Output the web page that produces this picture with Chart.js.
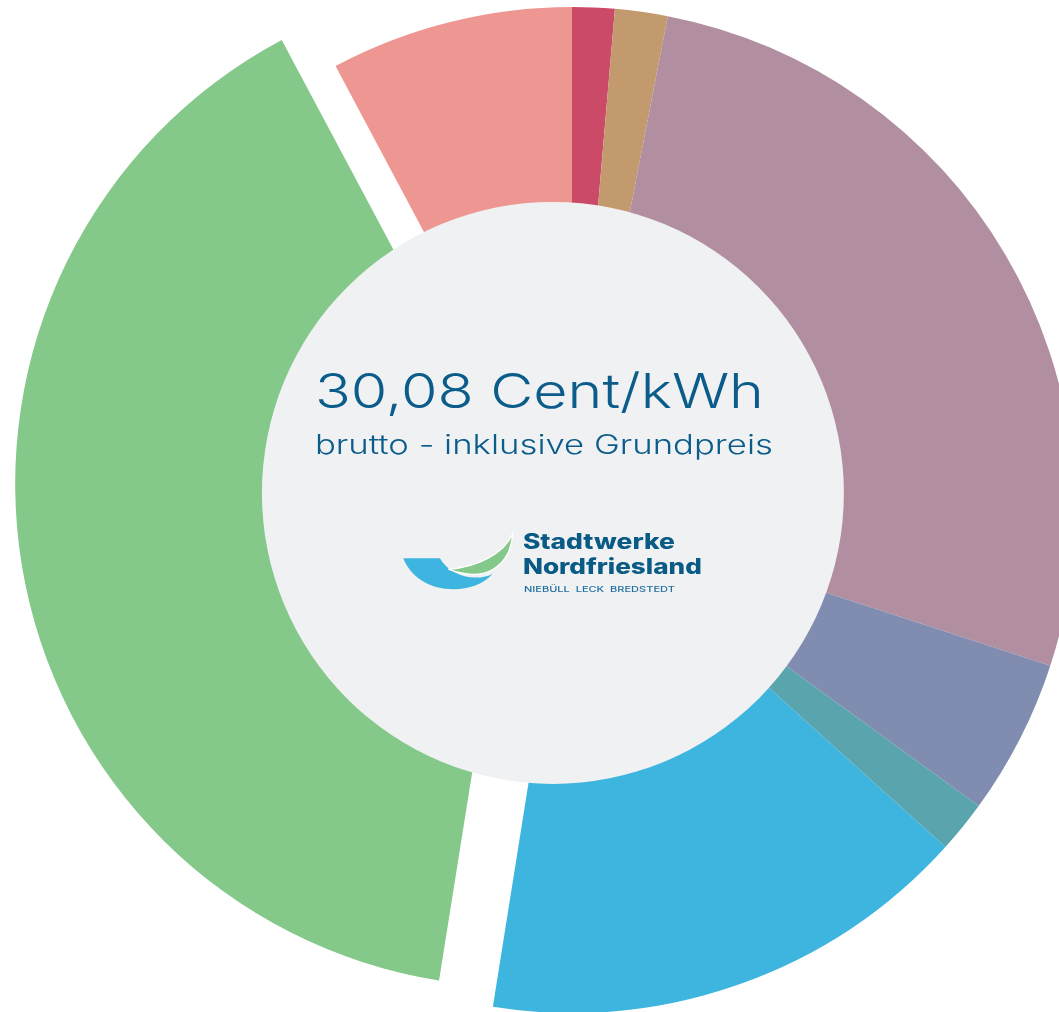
<!DOCTYPE html>
<html lang="de">
<head>
<meta charset="utf-8">
<title>Strompreis 30,08 Cent/kWh</title>
<script src="https://cdn.jsdelivr.net/npm/chart.js@4.4.0/dist/chart.umd.min.js"></script>
<style>
  html, body { margin: 0; padding: 0; background: #fff; }
  #wrap { position: relative; width: 1059px; height: 1012px; overflow: hidden; }
</style>
</head>
<body>
<div id="wrap"><canvas id="priceChart"></canvas></div>
<script>
// Anteile am Strompreis in %, im Uhrzeigersinn ab 12 Uhr
const segments = ['Rot', 'Ocker', 'Mauve', 'Graublau', 'Petrol', 'Blau', 'Gruen', 'Lachs'];
const shares = [1.36, 1.69, 26.96, 5.01, 1.67, 15.83, 39.70, 7.79];
const segmentColors = ['#CB4A68', '#C39A6D', '#B18FA0', '#808DB1', '#5AA4AD', '#3DB5DF', '#84C88A', '#EE9691'];

const priceText = '30,08 Cent/kWh';
const subText = 'brutto - inklusive Grundpreis';
const logoLines = ['Stadtwerke', 'Nordfriesland', 'NIEBÜLL  LECK  BREDSTEDT'];

const pulledIndex = 6; // gruenes Segment ist herausgezogen

// text squeezed/stretched to a given width
function fitText(ctx, text, x, y, width, font) {
    ctx.font = font;
    const w = ctx.measureText(text).width;
    ctx.save();
    ctx.translate(x, y);
    ctx.scale(width / w, 1);
    ctx.fillText(text, 0, 0);
    ctx.restore();
}

// move the green piece up/left (not along its bisector)
const pullOut = {
    id: 'pullOut',
    afterDatasetsUpdate(chart) {
        const arc = chart.getDatasetMeta(0).data[pulledIndex];
        const r = arc.outerRadius;
        arc.x -= 0.107 * r;
        arc.y -= 0.052 * r;
    }
};

// grey disc with price and logo
const centerDisc = {
    id: 'centerDisc',
    afterDatasetsDraw(chart) {
        const ctx = chart.ctx;
        const a = chart.getDatasetMeta(0).data[0];
        const R = a.outerRadius;
        const gx = a.x - 0.038 * R;
        const gy = a.y - 0.034 * R;

        ctx.save();
        ctx.fillStyle = '#F0F1F3';
        ctx.beginPath();
        ctx.arc(gx, gy, 0.5785 * R, 0, Math.PI * 2);
        ctx.fill();

        ctx.textBaseline = 'alphabetic';
        ctx.textAlign = 'left';
        ctx.fillStyle = '#0B5C8A';
        fitText(ctx, priceText, gx - 238, gy - 85, 449, '300 48px Inter');
        fitText(ctx, subText, gx - 238, gy - 39, 458, '300 27px Inter');

        // logo swoosh, sizes in logo units (1/3 px)
        const lx = gx - 173, ly = gy + 17, s = 1 / 3;
        const P = (x, y) => [lx + x * s, ly + y * s];

        ctx.fillStyle = '#3DB5E0';
        ctx.beginPath();
        ctx.moveTo(...P(70, 145));
        ctx.lineTo(...P(180, 145));
        ctx.bezierCurveTo(...P(205, 192), ...P(280, 220), ...P(338, 192));
        ctx.bezierCurveTo(...P(285, 255), ...P(120, 265), ...P(70, 145));
        ctx.fill();

        ctx.fillStyle = '#84C88A';
        ctx.strokeStyle = '#ffffff';
        ctx.lineWidth = 1.3;
        ctx.beginPath();
        ctx.moveTo(...P(205, 178));
        ctx.bezierCurveTo(...P(290, 172), ...P(372, 132), ...P(398, 72));
        ctx.bezierCurveTo(...P(392, 165), ...P(320, 222), ...P(205, 178));
        ctx.fill();
        ctx.stroke();

        ctx.fillStyle = '#0A5A86';
        fitText(ctx, logoLines[0], gx - 30, gy + 56, 152, '800 21px Inter');
        fitText(ctx, logoLines[1], gx - 30, gy + 81, 179, '800 21px Inter');
        ctx.fillStyle = '#2270A0';
        fitText(ctx, logoLines[2], gx - 29, gy + 99, 151, '500 8px Inter');
        ctx.restore();
    }
};

const ctx = document.getElementById('priceChart').getContext('2d');
new Chart(ctx, {
    type: 'doughnut',
    data: {
        labels: segments,
        datasets: [{
            data: shares,
            backgroundColor: segmentColors,
            borderWidth: 0,
            clip: false
        }]
    },
    options: {
        responsive: true,
        maintainAspectRatio: false,
        animation: false,
        radius: 503,
        cutout: '45%',
        layout: {
            padding: { left: 85, top: 8, right: 0, bottom: 0 }
        },
        plugins: {
            legend: { display: false },
            tooltip: { enabled: false }
        }
    },
    plugins: [pullOut, centerDisc]
});
</script>
</body>
</html>
